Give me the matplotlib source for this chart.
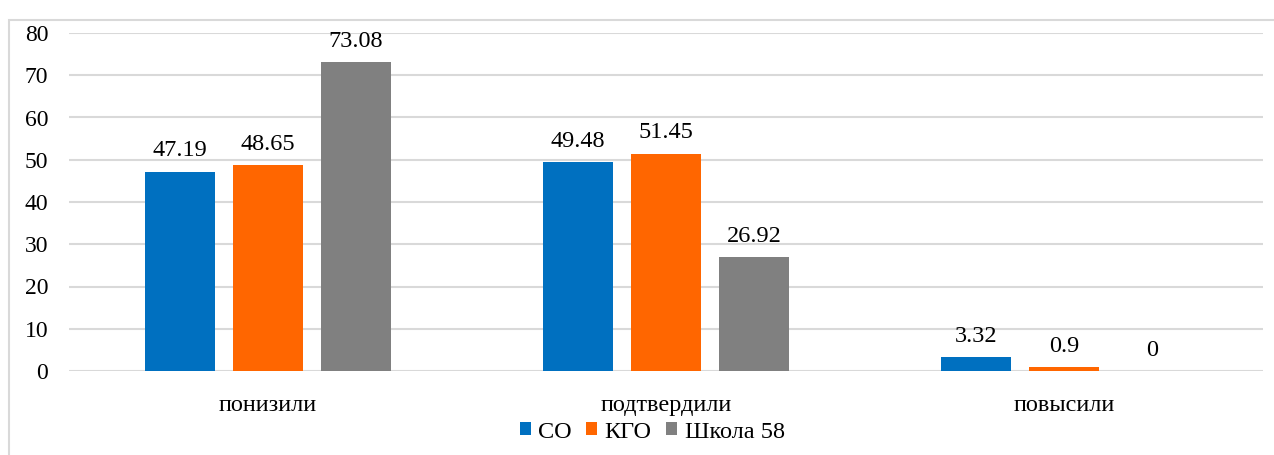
import matplotlib
matplotlib.use("Agg")
import matplotlib.pyplot as plt
from matplotlib.patches import Rectangle
import numpy as np

categories = ["понизили", "подтвердили", "повысили"]
series_names = ["СО", "КГО", "Школа 58"]
values_co = [47.19, 49.48, 3.32]
values_kgo = [48.65, 51.45, 0.9]
values_school = [73.08, 26.92, 0]
colors = ["#0070C0", "#FF6600", "#808080"]
yticks = [0, 10, 20, 30, 40, 50, 60, 70, 80]

FAM = ['Liberation Serif', 'DejaVu Serif']
plt.rcParams['font.family'] = FAM

fig = plt.figure(figsize=(12.74, 4.55), dpi=100)
fig.patches.append(Rectangle((9/1274, -0.01), 1.02, 1 - 20/455 + 0.01,
                             transform=fig.transFigure, fill=False,
                             edgecolor="#D9D9D9", linewidth=1.5))

ax = fig.add_axes([69/1274, 1 - 371/455, (1263 - 69)/1274, (371 - 33)/455])
x = np.arange(len(categories))
width = 70/398
step = 88/398
for i, (vals, name) in enumerate(zip([values_co, values_kgo, values_school], series_names)):
    pos = x + (i - 1) * step
    bars = ax.bar(pos, vals, width, color=colors[i], label=name, zorder=3)
    for b, v in zip(bars, vals):
        ax.text(b.get_x() + b.get_width()/2, v + 2.4, f"{v:g}", ha="center", va="bottom",
                fontsize=17.5, color="#000000", family=FAM)

ax.set_xlim(-0.5, 2.5)
ax.set_ylim(0, 80)
ax.set_yticks(yticks)
ax.set_yticklabels([str(t) for t in yticks], fontsize=17, family=FAM)
ax.set_xticks(x)
ax.set_xticklabels(categories, fontsize=17.5, family=FAM)
ax.tick_params(axis='both', length=0)
ax.tick_params(axis='y', pad=15)
ax.tick_params(axis='x', pad=17)
ax.grid(axis='y', color="#D9D9D9", linewidth=1.5, zorder=0)
for s in ax.spines.values():
    s.set_visible(False)

leg = fig.legend(loc="center", bbox_to_anchor=(0.512, 1 - 432/455), ncol=3, frameon=False,
                 prop={'family': FAM, 'size': 17.5}, handlelength=0.45, handleheight=0.45,
                 handletextpad=0.3, columnspacing=0.6, borderpad=0)

fig.savefig("out.png", dpi=100)
